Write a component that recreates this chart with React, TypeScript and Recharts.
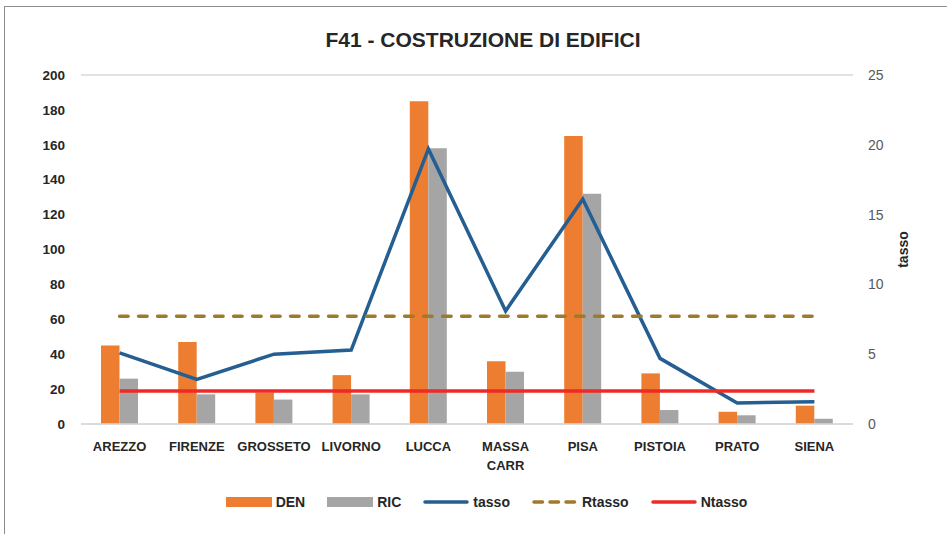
import React from 'react';
import { ComposedChart, Bar, Line, XAxis, YAxis, CartesianGrid, Legend } from 'recharts';

const categories = ['AREZZO', 'FIRENZE', 'GROSSETO', 'LIVORNO', 'LUCCA', 'MASSA CARR', 'PISA', 'PISTOIA', 'PRATO', 'SIENA'];
const den = [45, 47, 18, 28, 185, 36, 165, 29, 7, 10.5];
const ric = [26, 17, 14, 17, 158, 30, 132, 8, 5, 3];
const tasso = [5.1, 3.2, 5.0, 5.3, 19.7, 8.1, 16.1, 4.7, 1.5, 1.6];
const rtasso = [7.72, 7.72, 7.72, 7.72, 7.72, 7.72, 7.72, 7.72, 7.72, 7.72];
const ntasso = [2.36, 2.36, 2.36, 2.36, 2.36, 2.36, 2.36, 2.36, 2.36, 2.36];
const leftTicks = [0, 20, 40, 60, 80, 100, 120, 140, 160, 180, 200];
const rightTicks = [0, 5, 10, 15, 20, 25];

const data = categories.map((c, i) => ({
  name: c,
  DEN: den[i],
  RIC: ric[i],
  tasso: tasso[i],
  Rtasso: rtasso[i],
  Ntasso: ntasso[i],
}));

const FONT = "'Liberation Sans', Arial, sans-serif";

const XTick = (props: any) => {
  const { x, y, payload } = props;
  const parts = String(payload.value).split(' ');
  return (
    <text x={x} y={y} textAnchor="middle" fontFamily={FONT} fontWeight="bold" fontSize={13} fill="#262626">
      {parts.map((p, i) => (
        <tspan key={i} x={x} y={y + 27 + i * 19}>{p}</tspan>
      ))}
    </text>
  );
};

const RightLabel = (props: any) => {
  const vb = props.viewBox || {};
  const cx = vb.x + vb.width + 10;
  const cy = vb.y + vb.height / 2;
  return (
    <text x={cx} y={cy} transform={`rotate(-90 ${cx} ${cy})`} textAnchor="middle" dominantBaseline="central" fontFamily={FONT} fontWeight="bold" fontSize={14} fill="#262626">
      tasso
    </text>
  );
};

const legendItems = [
  { name: 'DEN', type: 'rect', color: '#ED7D31' },
  { name: 'RIC', type: 'rect', color: '#A5A5A5' },
  { name: 'tasso', type: 'line', color: '#255E91' },
  { name: 'Rtasso', type: 'dash', color: '#9E7A2D' },
  { name: 'Ntasso', type: 'line', color: '#EE2A26' },
];

const LegendContent = () => (
  <div style={{ display: 'flex', justifyContent: 'center', alignItems: 'center', height: 24, paddingLeft: 26, fontFamily: FONT, fontWeight: 'bold', fontSize: 14, color: '#262626' }}>
    {legendItems.map((it, i) => (
      <div key={it.name} style={{ display: 'flex', alignItems: 'center', marginRight: i < legendItems.length - 1 ? 22 : 0 }}>
        <svg width={46} height={12} style={{ marginRight: 4 }}>
          {it.type === 'rect' && <rect x={0} y={1} width={46} height={10} fill={it.color} />}
          {it.type === 'line' && <line x1={2} y1={6} x2={44} y2={6} stroke={it.color} strokeWidth={3.5} strokeLinecap="round" />}
          {it.type === 'dash' && <line x1={2} y1={6} x2={44} y2={6} stroke={it.color} strokeWidth={3.5} strokeLinecap="round" strokeDasharray="8.5 7.5" />}
        </svg>
        <span>{it.name}</span>
      </div>
    ))}
  </div>
);

export default function App() {
  return (
    <div style={{ position: 'absolute', left: 0, top: 0, width: 947, height: 534, background: '#fff' }}>
      <div style={{ position: 'absolute', left: 4, top: 6, width: 943, height: 528, borderLeft: '1px solid #8c8c8c', borderTop: '1px solid #8c8c8c' }} />
      <div style={{ position: 'absolute', left: 0, top: 28, width: 966, textAlign: 'center', fontFamily: FONT, fontWeight: 'bold', fontSize: 21, color: '#262626' }}>
        F41 - COSTRUZIONE DI EDIFICI
      </div>
      <ComposedChart
        width={947}
        height={534}
        data={data}
        margin={{ top: 75, right: 54, bottom: 20, left: 15 }}
        barGap={0}
        barSize={18.5}
        style={{ position: 'absolute', left: 0, top: 0 }}
      >
        <CartesianGrid vertical={false} stroke="#d9d9d9" strokeWidth={1.3} />
        <XAxis
          dataKey="name"
          axisLine={{ stroke: '#d9d9d9', strokeWidth: 1.3 }}
          tickLine={false}
          tickSize={0}
          tickMargin={0}
          height={66}
          interval={0}
          tick={<XTick />}
        />
        <YAxis
          yAxisId="left"
          domain={[0, 200]}
          ticks={leftTicks}
          width={66}
          axisLine={false}
          tickLine={false}
          tickSize={0}
          tickMargin={16}
          tick={{ fontFamily: FONT, fontWeight: 'bold', fontSize: 13.5, fill: '#262626' }}
        />
        <YAxis
          yAxisId="right"
          orientation="right"
          domain={[0, 25]}
          ticks={rightTicks}
          width={40}
          axisLine={false}
          tickLine={false}
          tickSize={0}
          tickMargin={15}
          tick={{ fontFamily: FONT, fontSize: 14, fill: '#595959' }}
          label={<RightLabel />}
        />
        <Legend verticalAlign="bottom" wrapperStyle={{ left: 0, width: 947 }} content={<LegendContent />} />
        <Bar yAxisId="left" dataKey="DEN" fill="#ED7D31" isAnimationActive={false} />
        <Bar yAxisId="left" dataKey="RIC" fill="#A5A5A5" isAnimationActive={false} />
        <Line yAxisId="right" dataKey="tasso" stroke="#255E91" strokeWidth={3.5} dot={false} activeDot={false} isAnimationActive={false} />
        <Line yAxisId="right" dataKey="Rtasso" stroke="#9E7A2D" strokeWidth={3.5} strokeDasharray="8.5 10.5" strokeLinecap="round" dot={false} activeDot={false} isAnimationActive={false} />
        <Line yAxisId="right" dataKey="Ntasso" stroke="#EE2A26" strokeWidth={3.5} dot={false} activeDot={false} isAnimationActive={false} />
      </ComposedChart>
    </div>
  );
}
